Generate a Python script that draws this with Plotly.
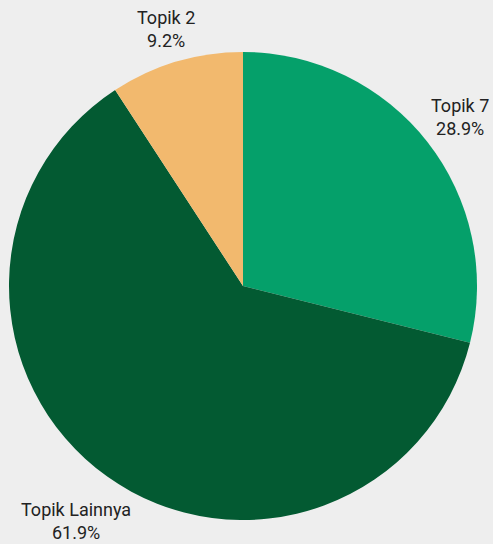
import math
import plotly.graph_objects as go

labels = ["Topik 7", "Topik Lainnya", "Topik 2"]
values = [28.9, 61.9, 9.2]
colors = ["#05a06a", "#035a32", "#f2b96e"]

W, H = 493, 544
CX, CY, R = 243, 286, 234   # pie centre / radius in pixels
FONT = 18

fig = go.Figure(go.Pie(
    labels=labels, values=values, sort=False, direction="clockwise", rotation=0,
    marker=dict(colors=colors, line=dict(width=0)),
    textinfo="none", hoverinfo="label+percent",
    domain=dict(x=[(CX - R) / W, (CX + R) / W], y=[(H - CY - R) / H, (H - CY + R) / H]),
    showlegend=False,
))

total = sum(values)
cum = 0.0
annotations = []
for lab, v in zip(labels, values):
    mid = (cum + v / 2) / total * 2 * math.pi
    cum += v
    s, c = math.sin(mid), math.cos(mid)
    w = len(lab) * 8.4
    h = 46
    d = R + 4 + abs(s) * w / 2 + abs(c) * h / 2
    px = CX + d * s
    py = CY - d * c
    annotations.append(dict(
        x=px / W, y=1 - py / H, xref="paper", yref="paper",
        xanchor="center", yanchor="middle", showarrow=False,
        text=f"{lab}<br>{v / total * 100:.1f}%",
        font=dict(size=FONT, color="#222222", family="Roboto"),
    ))

fig.update_layout(
    width=W, height=H,
    margin=dict(l=0, r=0, t=0, b=0),
    paper_bgcolor="#eeeeee", plot_bgcolor="#eeeeee",
    annotations=annotations,
)
fig.write_html("out.html")
